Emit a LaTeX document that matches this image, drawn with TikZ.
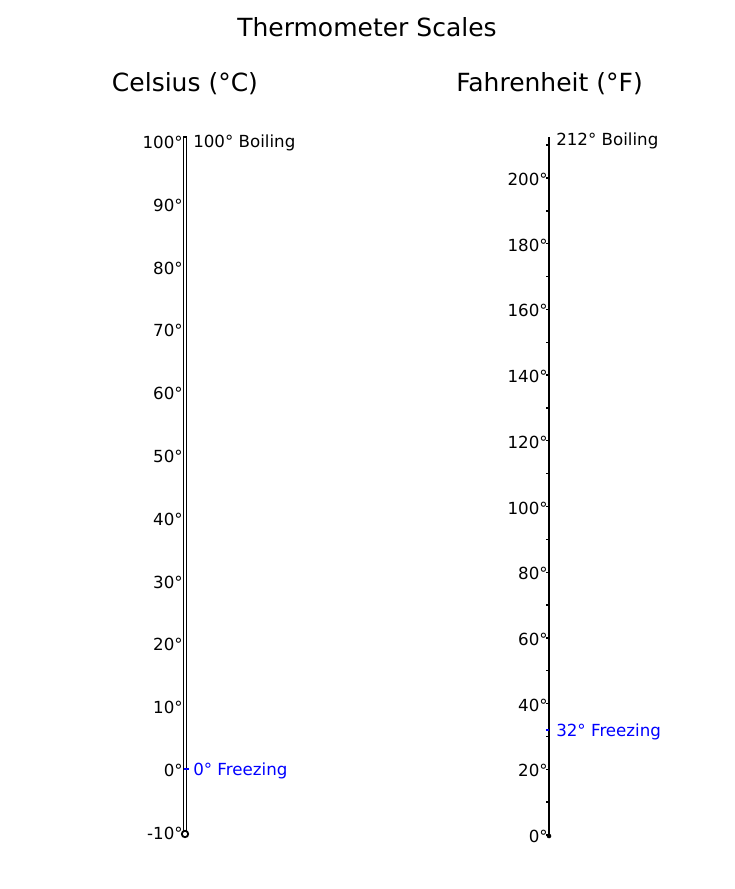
\documentclass[tikz,border=0pt]{standalone}
\usepackage{fontspec}
\setmainfont{DejaVu Sans}
\definecolor{frz}{RGB}{0,0,255}
\begin{document}
\begin{tikzpicture}[x=0.72pt,y=-0.72pt,
  ttl/.style={font=\fontsize{18}{21}\selectfont, inner sep=0pt},
  lbl/.style={font=\fontsize{12}{14}\selectfont, inner sep=0pt, anchor=east},
  note/.style={font=\fontsize{12}{14}\selectfont, inner sep=0pt, anchor=west},
  tickmark/.style={line width=1pt}]
\useasboundingbox (0,0) rectangle (734,889);
\node[ttl] (title) at (367,27) {Thermometer Scales};
\node[ttl] (ctitle) at (185,84) {Celsius (°C)};
\node[ttl] (ftitle) at (549.5,84) {Fahrenheit (°F)};
% Celsius bar
\coordinate (ctop) at (185,137);
\coordinate (cbot) at (185,834);
\draw[line width=1.2pt] (183.4,137) rectangle (186.6,834);
\draw[line width=1.3pt, fill=white] (cbot) circle (3.2);
\foreach \v in {-10,0,...,100} {
  \node[lbl] (c\v) at (183,{770.5-\v*6.28}) {\v°};
}
\draw[frz, line width=1pt] (184,769) -- (189,769);
\node[note] (cboil) at (193,142.5) {100° Boiling};
\node[note, text=frz] (cfrz) at (193,770.5) {0° Freezing};
% Fahrenheit bar
\coordinate (ftop) at (549,137);
\coordinate (fbot) at (549,836);
\draw[line width=1.8pt] (ftop) -- (fbot);
\fill (fbot) circle (2.3);
\foreach \v in {0,10,...,210} {
  \draw[tickmark] (546,{835-\v*3.285}) -- (549,{835-\v*3.285});
}
\foreach \v in {0,20,...,200} {
  \node[lbl] (f\v) at (548,{836.5-\v*3.285}) {\v°};
}
\draw[frz, line width=1.2pt] (546,730) -- (549,730);
\node[note] (fboil) at (556,140.5) {212° Boiling};
\node[note, text=frz] (ffrz) at (556,731.5) {32° Freezing};
\end{tikzpicture}
\end{document}
